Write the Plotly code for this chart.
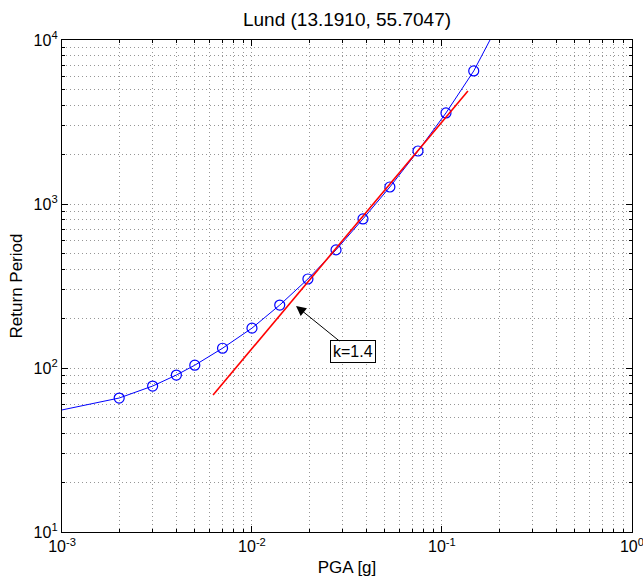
import numpy as np
import plotly.graph_objects as go

# Data
pga_points = [0.002, 0.003, 0.004, 0.005, 0.007, 0.010, 0.014, 0.0197, 0.0277,
              0.0384, 0.0532, 0.0748, 0.105, 0.147]
rp_points = [65.6, 77.6, 90.6, 104, 132, 175, 242, 349, 525, 811, 1270, 2105, 3590, 6475]

pga_curve = [0.001] + pga_points + [0.179]
rp_curve = [55.5] + rp_points + [10000]

pga_fit = [0.00624, 0.137]
rp_fit = [68.4, 4890]

title_text = "Lund (13.1910, 55.7047)"
x_label = "PGA [g]"
y_label = "Return Period"
annot_text = "k=1.4"

x_major = [1e-3, 1e-2, 1e-1, 1e0]
x_major_text = ["10<sup>-3</sup>", "10<sup>-2</sup>", "10<sup>-1</sup>", "10<sup>0</sup>"]
y_major = [1e1, 1e2, 1e3, 1e4]
y_major_text = ["10<sup>1</sup>", "10<sup>2</sup>", "10<sup>3</sup>", "10<sup>4</sup>"]

x_minor = [m * 10.0 ** e for e in range(-3, 0) for m in range(2, 10)]
y_minor = [m * 10.0 ** e for e in range(1, 4) for m in range(2, 10)]

font_family = "Liberation Sans, Arial, Helvetica, sans-serif"
grid_color = "#969696"
grid_dash = "1px,3px"

fig = go.Figure()
fig.add_trace(go.Scatter(x=pga_curve, y=rp_curve, mode="lines",
                         line=dict(color="#0000ff", width=1), showlegend=False,
                         hoverinfo="skip"))
fig.add_trace(go.Scatter(x=pga_points, y=rp_points, mode="markers",
                         marker=dict(symbol="circle-open", size=10, color="#0000ff",
                                     line=dict(width=1.2, color="#0000ff")),
                         showlegend=False))
fig.add_trace(go.Scatter(x=pga_fit, y=rp_fit, mode="lines",
                         line=dict(color="#ff0000", width=1.6), showlegend=False))

axis_common = dict(
    type="log", automargin=False,
    showline=True, linecolor="black", linewidth=1.3, mirror="ticks",
    ticks="inside", ticklen=6, tickcolor="black", tickwidth=1,
    showgrid=True, gridcolor=grid_color, gridwidth=1, griddash=grid_dash,
    zeroline=False, ticklabeloverflow="allow",
    tickfont=dict(family=font_family, size=16, color="black"),
)

fig.update_xaxes(
    **axis_common,
    range=[-3, 0.0004],
    tickmode="array", tickvals=x_major, ticktext=x_major_text,
    minor=dict(tickmode="array", tickvals=x_minor, ticks="inside", ticklen=3,
               tickcolor="black", showgrid=True, gridcolor=grid_color,
               griddash=grid_dash, gridwidth=1),
    title=dict(text=x_label, font=dict(family=font_family, size=17, color="black"),
               standoff=6),
)
fig.update_yaxes(
    **axis_common,
    range=[1, 4],
    tickmode="array", tickvals=y_major, ticktext=y_major_text,
    minor=dict(tickmode="array", tickvals=y_minor, ticks="inside", ticklen=3,
               tickcolor="black", showgrid=True, gridcolor=grid_color,
               griddash=grid_dash, gridwidth=1),
    title=dict(text=y_label, font=dict(family=font_family, size=17, color="black"),
               standoff=6),
)

fig.add_annotation(
    x=np.log10(0.01706), y=np.log10(239), xref="x", yref="y",
    ax=np.log10(0.0340), ay=np.log10(125.2), axref="x", ayref="y",
    text=annot_text, showarrow=True, arrowhead=2, arrowsize=2, arrowwidth=1,
    arrowcolor="black",
    font=dict(family=font_family, size=16, color="black"),
    bgcolor="white", bordercolor="black", borderwidth=1, borderpad=2,
)

fig.update_layout(
    width=643, height=580,
    margin=dict(l=62, r=11, t=40, b=48),
    paper_bgcolor="white", plot_bgcolor="white",
    title=dict(text=title_text, xref="paper", x=0.5, xanchor="center",
               yref="container", y=0.966, yanchor="middle",
               font=dict(family=font_family, size=19, color="black")),
    font=dict(family=font_family, color="black"),
)

fig.write_html("out.html")
